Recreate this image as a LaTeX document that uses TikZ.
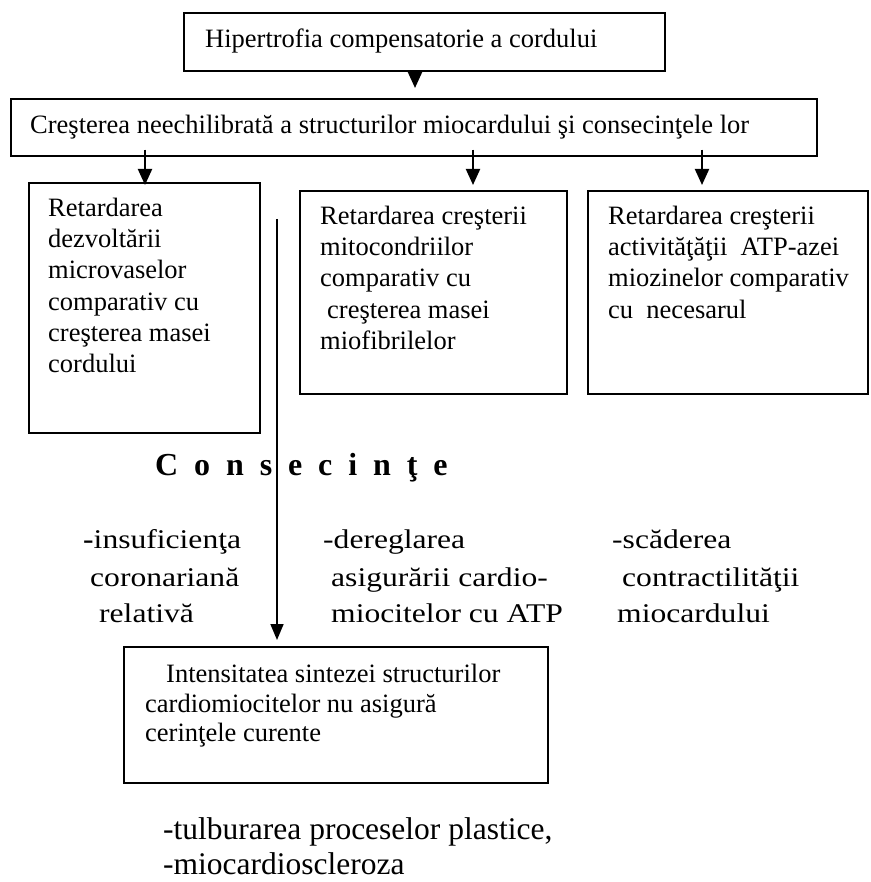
\documentclass[tikz,border=0pt]{standalone}
\usepackage{fontspec}
\setmainfont{Liberation Serif}
\newfontfamily\stfont[FakeStretch=1.17]{Liberation Serif}
\usetikzlibrary{arrows.meta,calc}
\newcommand{\cgap}{\hspace{15.9pt}}
\begin{document}
\begin{tikzpicture}[x=1pt,y=-1pt,
  box/.style={draw, line width=1.6pt, inner sep=0pt, anchor=north west},
  txt/.style={anchor=base west, inner sep=0pt, font=\fontsize{26.5}{31}\selectfont},
  ctxt/.style={anchor=base west, inner sep=0pt, font=\stfont\fontsize{27}{37}\selectfont},
  btxt/.style={anchor=base west, inner sep=0pt, font=\fontsize{31.5}{36}\selectfont},
  arr/.style={line width=2pt, -{Triangle[length=16pt,width=14pt]}},
  varr/.style={line width=1.7pt, -{Triangle[length=16pt,width=13pt]}}]
\useasboundingbox (0,0) rectangle (870,882);

% boxes
\node[box, minimum width=481pt, minimum height=58pt] (b1) at (183,12) {};
\node[box, minimum width=806pt, minimum height=57pt] (bar) at (10,98) {};
\node[box, minimum width=231pt, minimum height=250pt] (lb) at (28,182) {};
\node[box, minimum width=267pt, minimum height=203pt] (mb) at (299,190) {};
\node[box, minimum width=280pt, minimum height=203pt] (rb) at (587,190) {};
\node[box, minimum width=424pt, minimum height=136pt] (bb) at (123,646) {};

% box texts
\node[txt] (t1) at (205,48) {Hipertrofia compensatorie a cordului};
\node[txt] (t2) at (30,134) {Creşterea neechilibrată a structurilor miocardului şi consecinţele lor};

\node[txt] (l1) at (48,217) {Retardarea};
\node[txt] (l2) at (48,248) {dezvoltării};
\node[txt] (l3) at (48,279) {microvaselor};
\node[txt] (l4) at (48,310) {comparativ cu};
\node[txt] (l5) at (48,341) {creşterea masei};
\node[txt] (l6) at (48,372) {cordului};

\node[txt] (m1) at (320,225) {Retardarea creşterii};
\node[txt] (m2) at (320,256) {mitocondriilor};
\node[txt] (m3) at (320,287) {comparativ cu};
\node[txt] (m4) at (327,318) {creşterea masei};
\node[txt] (m5) at (320,349) {miofibrilelor};

\node[txt] (r1) at (608,225) {Retardarea creşterii};
\node[txt] (r2) at (608,256) {activităţăţii\ \ ATP-azei};
\node[txt] (r3) at (608,287) {miozinelor comparativ};
\node[txt] (r4) at (608,318) {cu\ \ necesarul};

\node[txt] (s1) at (166,682) {Intensitatea sintezei structurilor};
\node[txt] (s2) at (145,712) {cardiomiocitelor nu asigură};
\node[txt] (s3) at (145,741) {cerinţele curente};

% Consecinte
\node[anchor=base west, inner sep=0pt, font=\bfseries\fontsize{32}{36}\selectfont] (cons) at (155,475)
  {C\cgap o\cgap n\cgap s\cgap e\cgap c\cgap i\cgap n\cgap ţ\cgap e};

\node[ctxt] (c11) at (83,548) {{\bfseries -}insuficienţa};
\node[ctxt] (c12) at (90,586) {coronariană};
\node[ctxt] (c13) at (99,622) {relativă};

\node[ctxt] (c21) at (323,548) {-dereglarea};
\node[ctxt] (c22) at (331,586) {asigurării cardio-};
\node[ctxt] (c23) at (331,622) {miocitelor cu ATP};

\node[ctxt] (c31) at (612,548) {-scăderea};
\node[ctxt] (c32) at (622,586) {contractilităţii};
\node[ctxt] (c33) at (617,622) {miocardului};

\node[btxt] (e1) at (163,839) {-tulburarea proceselor plastice,};
\node[btxt] (e2) at (163,874) {-miocardioscleroza};

% connectors
\coordinate (ax1) at (415,0);
\coordinate (ax2) at (145,0);
\coordinate (ax3) at (473,0);
\coordinate (ax4) at (702,0);
\coordinate (vs) at (277,219);
\draw[arr] (b1.south -| ax1) -- ($(bar.north -| ax1)+(0,-10)$);
\draw[arr] ($(bar.south -| ax2)+(0,-7)$) -- ($(lb.north -| ax2)+(0,3)$);
\draw[arr] ($(bar.south -| ax3)+(0,-7)$) -- ($(mb.north -| ax3)+(0,-5)$);
\draw[arr] ($(bar.south -| ax4)+(0,-7)$) -- ($(rb.north -| ax4)+(0,-5)$);
\draw[varr] (vs) -- ($(bb.north -| vs)+(0,-6)$);
\end{tikzpicture}
\end{document}
